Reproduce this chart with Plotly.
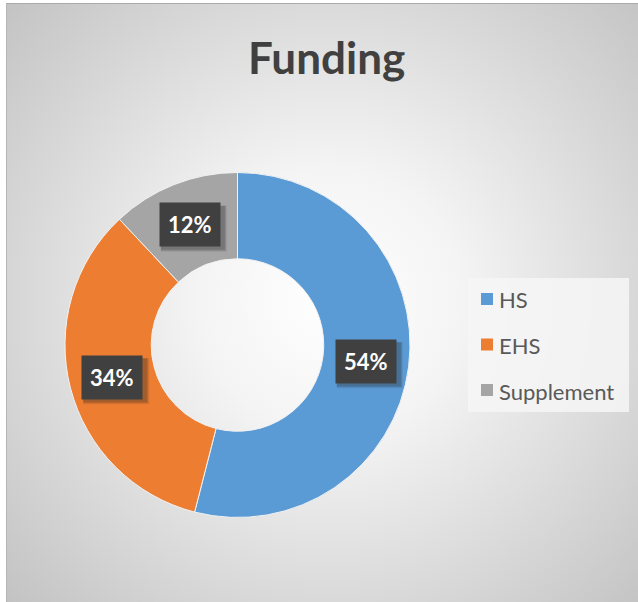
import base64
import math
import plotly.graph_objects as go

# ---- data ----
categories = ["HS", "EHS", "Supplement"]
values = [54, 34, 12]
label_texts = ["54%", "34%", "12%"]
colors = ["#5B9BD5", "#ED7D31", "#A5A5A5"]
title_text = "Funding"

W, H = 638, 602
FONT = "Lato, 'Open Sans', sans-serif"

# frame (chart area) in pixels
fx0, fy0, fx1, fy1 = 6, 3, 638, 602

# pie geometry (pixels)
cx, cy, R = 237.5, 345, 172.5

# radial gradient background as SVG data URI
fw, fh = fx1 - fx0, fy1 - fy0
svg = (
    f'<svg xmlns="http://www.w3.org/2000/svg" width="{fw}" height="{fh}">'
    '<defs><radialGradient id="g" gradientUnits="userSpaceOnUse" '
    f'cx="{330 - fx0}" cy="{300 - fy0}" r="440">'
    '<stop offset="0" stop-color="#ffffff"/>'
    '<stop offset="0.3" stop-color="#f4f4f4"/>'
    '<stop offset="1" stop-color="#c3c3c3"/>'
    '</radialGradient></defs>'
    f'<rect x="0" y="0" width="{fw}" height="{fh}" fill="url(#g)"/>'
    f'<line x1="0" y1="0.5" x2="{fw}" y2="0.5" stroke="#aaaaaa" stroke-width="1"/>'
    f'<line x1="0.5" y1="0" x2="0.5" y2="{fh}" stroke="#b5b5b5" stroke-width="1"/>'
    '</svg>'
)
svg_uri = "data:image/svg+xml;base64," + base64.b64encode(svg.encode()).decode()


def px(x):
    return x / W


def py(y):
    return 1 - y / H


fig = go.Figure()
fig.add_trace(
    go.Pie(
        labels=categories,
        values=values,
        hole=0.5,
        sort=False,
        direction="clockwise",
        rotation=0,
        textinfo="none",
        marker=dict(colors=colors, line=dict(color="#f2f2f2", width=1)),
        domain=dict(x=[px(cx - R), px(cx + R)], y=[py(cy + R), py(cy - R)]),
        showlegend=False,
        hoverinfo="label+percent",
    )
)

annotations = []
shapes = []

# data labels in the middle of the ring, computed from values
total = sum(values)
cum = 0
r_lab = R * 0.75
box_w, box_h = 62, 42
for v, t in zip(values, label_texts):
    mid = (cum + v / 2) / total * 2 * math.pi
    cum += v
    lx = cx + r_lab * math.sin(mid)
    ly = cy - r_lab * math.cos(mid)
    # soft shadow behind the label box
    for k, a in ((6, 0.10), (5, 0.14), (4, 0.18)):
        shapes.append(
            dict(
                type="rect", xref="paper", yref="paper",
                xsizemode="pixel", ysizemode="pixel",
                xanchor=px(lx), yanchor=py(ly),
                x0=-box_w / 2 + 2, x1=box_w / 2 + k,
                y0=-box_h / 2 - k, y1=box_h / 2 - 2,
                fillcolor=f"rgba(40,40,40,{a})", line=dict(width=0),
            )
        )
    annotations.append(
        dict(
            x=px(lx), y=py(ly), xref="paper", yref="paper",
            xanchor="center", yanchor="middle",
            text=f"<b>{t}</b>", showarrow=False,
            font=dict(family=FONT, size=22, color="#ffffff"),
            bgcolor="#404040", borderpad=8,
        )
    )

# title
annotations.append(
    dict(
        x=px(327), y=py(57), xref="paper", yref="paper",
        text=f"<b>{title_text}</b>", showarrow=False,
        font=dict(family=FONT, size=44, color="#404040"),
        xanchor="center", yanchor="middle",
    )
)

# manual legend
lg_x0, lg_y0, lg_x1, lg_y1 = 468, 278, 629, 412
shapes.insert(0,
    dict(type="rect", xref="paper", yref="paper",
         x0=px(lg_x0), x1=px(lg_x1), y0=py(lg_y1), y1=py(lg_y0),
         fillcolor="rgba(246,246,246,0.85)", line=dict(width=0), layer="below")
)
item_y0, item_dy = 299, 45.5
for i, (cat, col) in enumerate(zip(categories, colors)):
    yy = item_y0 + i * item_dy
    shapes.append(
        dict(type="rect", xref="paper", yref="paper",
             x0=px(481), x1=px(493), y0=py(yy + 6), y1=py(yy - 6),
             fillcolor=col, line=dict(width=0))
    )
    annotations.append(
        dict(
            x=px(497), y=py(yy + 1), xref="paper", yref="paper",
            text=cat, showarrow=False, xanchor="left", yanchor="middle",
            font=dict(family=FONT, size=22, color="#595959"),
        )
    )

fig.update_layout(
    width=W, height=H,
    margin=dict(l=0, r=0, t=0, b=0),
    paper_bgcolor="#ffffff",
    plot_bgcolor="rgba(0,0,0,0)",
    showlegend=False,
    annotations=annotations,
    shapes=shapes,
    images=[
        dict(
            source=svg_uri, xref="paper", yref="paper",
            x=px(fx0), y=py(fy0), sizex=px(fx1) - px(fx0), sizey=py(fy0) - py(fy1),
            xanchor="left", yanchor="top", sizing="stretch", layer="below",
        )
    ],
)

fig.write_html(
    "out.html",
    config={"displayModeBar": False},
    post_script="document.body.style.margin='0';document.body.style.overflow='hidden';",
)
